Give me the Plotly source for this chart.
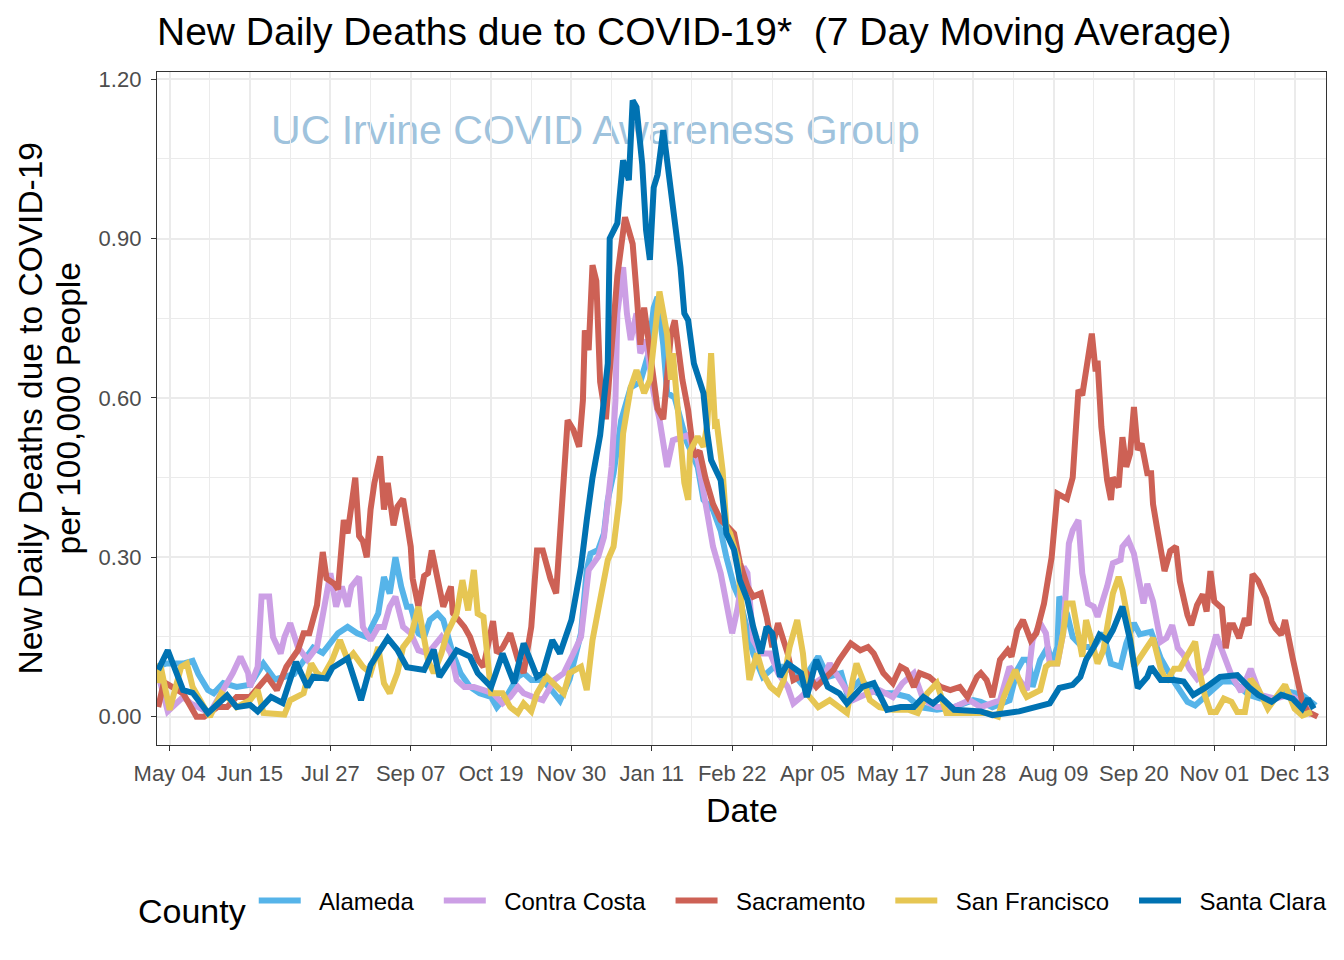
import pandas as pd
import plotly.graph_objects as go

# ---------------- data (days since 2020-05-04, 7-day avg deaths per 100k) ----------------
origin = "2020-05-04"
counties = ["Alameda", "Contra Costa", "Sacramento", "San Francisco", "Santa Clara"]
county_colors = ["#56B4E9", "#CC9FE5", "#CD6155", "#E6C653", "#0072B2"]

alameda_days = [-6, -2, 7, 12, 15, 20, 23, 28, 35, 42, 49, 55, 65, 75, 80, 88, 93, 98, 103, 109,
                112, 115, 118, 121, 124, 126, 130, 133, 136, 140, 143, 148, 152, 157, 162, 168, 171, 177, 182, 185,
                189, 195, 201, 204, 209, 215, 218, 220, 224, 227, 229, 232, 236, 241, 246, 250, 253, 255, 258, 260,
                264, 270, 276, 279, 284, 288, 291, 295, 298, 305, 310, 316, 323, 330, 339, 344, 351, 354, 361, 370,
                378, 386, 392, 401, 410, 420, 424, 430, 439, 443, 446, 449, 451, 455, 459, 461, 464, 465, 469, 472,
                477, 483, 488, 492, 497, 500, 504, 507, 513, 518, 525, 532, 536, 542, 550, 556, 564, 570, 578, 585,
                592, 599]
alameda_vals = [0.095, 0.10, 0.10, 0.105, 0.08, 0.05, 0.044, 0.063, 0.056, 0.06, 0.10, 0.07, 0.08, 0.13, 0.12, 0.157, 0.169, 0.157, 0.15, 0.194,
                0.263, 0.232, 0.30, 0.245, 0.207, 0.207, 0.157, 0.15, 0.182, 0.194, 0.182, 0.119, 0.082, 0.056, 0.044, 0.037, 0.018, 0.044, 0.075, 0.082,
                0.069, 0.069, 0.044, 0.03, 0.07, 0.157, 0.276, 0.307, 0.314, 0.345, 0.408, 0.458, 0.558, 0.62, 0.63, 0.68, 0.77, 0.79, 0.70, 0.61,
                0.60, 0.52, 0.47, 0.408, 0.389, 0.35, 0.30, 0.245, 0.22, 0.119, 0.075, 0.094, 0.094, 0.063, 0.113, 0.075, 0.082, 0.044, 0.069, 0.044,
                0.044, 0.037, 0.018, 0.013, 0.018, 0.031, 0.028, 0.018, 0.031, 0.088, 0.107, 0.107, 0.056, 0.107, 0.131, 0.10, 0.131, 0.226, 0.194, 0.15,
                0.131, 0.131, 0.157, 0.10, 0.094, 0.138, 0.176, 0.155, 0.16, 0.11, 0.066, 0.028, 0.021, 0.041, 0.066, 0.066, 0.041, 0.034, 0.034, 0.047,
                0.041, 0.021]

contra_costa_days = [-6, -1, 7, 11, 21, 25, 30, 33, 37, 41, 42, 46, 48, 52, 54, 58, 60, 63, 67, 72,
                     77, 80, 84, 87, 90, 93, 95, 99, 101, 105, 109, 112, 115, 118, 122, 126, 130, 135, 142, 147,
                     150, 154, 159, 164, 169, 174, 178, 182, 185, 190, 195, 201, 206, 211, 215, 219, 224, 227, 229, 231,
                     233, 234, 237, 239, 241, 244, 246, 249, 253, 256, 260, 263, 271, 276, 281, 284, 288, 291, 294, 297,
                     300, 302, 305, 309, 314, 318, 323, 326, 330, 337, 342, 345, 351, 357, 365, 371, 378, 383, 389, 394,
                     401, 410, 418, 424, 434, 439, 443, 448, 451, 455, 458, 460, 464, 467, 470, 472, 475, 477, 480, 483,
                     485, 488, 490, 493, 497, 498, 501, 504, 507, 509, 511, 514, 518, 521, 524, 527, 530, 533, 537, 542,
                     547, 551, 555, 560, 565, 570, 578, 585, 592, 597]
contra_costa_vals = [0.08, 0.01, 0.037, 0.025, 0.007, 0.031, 0.063, 0.082, 0.113, 0.082, 0.056, 0.094, 0.226, 0.226, 0.15, 0.119, 0.15, 0.176, 0.131, 0.107,
                     0.131, 0.188, 0.27, 0.207, 0.245, 0.207, 0.245, 0.263, 0.169, 0.144, 0.169, 0.169, 0.207, 0.226, 0.169, 0.157, 0.125, 0.119, 0.15, 0.119,
                     0.069, 0.056, 0.056, 0.05, 0.044, 0.025, 0.037, 0.056, 0.044, 0.037, 0.031, 0.069, 0.082, 0.119, 0.15, 0.276, 0.301, 0.338, 0.395, 0.47,
                     0.596, 0.759, 0.846, 0.759, 0.709, 0.759, 0.684, 0.709, 0.609, 0.56, 0.47, 0.52, 0.53, 0.483, 0.383, 0.32, 0.27, 0.207, 0.157, 0.207,
                     0.282, 0.27, 0.144, 0.119, 0.119, 0.082, 0.056, 0.025, 0.037, 0.063, 0.075, 0.10, 0.063, 0.031, 0.044, 0.05, 0.037, 0.063, 0.082, 0.031,
                     0.018, 0.018, 0.031, 0.018, 0.031, 0.094, 0.075, 0.05, 0.144, 0.176, 0.157, 0.10, 0.10, 0.157, 0.326, 0.351, 0.37, 0.27, 0.213, 0.207,
                     0.188, 0.22, 0.245, 0.289, 0.295, 0.32, 0.333, 0.307, 0.245, 0.213, 0.25, 0.217, 0.141, 0.148, 0.172, 0.129, 0.116, 0.09, 0.071, 0.09,
                     0.154, 0.116, 0.078, 0.047, 0.09, 0.041, 0.034, 0.041, 0.028, 0.002]

sacramento_days = [-6, -3, 7, 14, 18, 25, 30, 35, 42, 47, 51, 56, 61, 67, 70, 73, 77, 80, 82, 86,
                   88, 91, 93, 97, 99, 101, 103, 105, 107, 110, 112, 114, 117, 119, 122, 126, 127, 130, 133, 135,
                   137, 140, 143, 147, 148, 154, 157, 161, 164, 169, 171, 174, 178, 182, 185, 189, 192, 195, 199, 202,
                   204, 206, 208, 211, 214, 216, 217, 219, 221, 223, 225, 228, 231, 234, 238, 242, 244, 246, 248, 250,
                   255, 258, 262, 264, 268, 271, 274, 277, 280, 284, 288, 291, 295, 298, 302, 305, 309, 312, 315, 318,
                   323, 326, 333, 338, 342, 347, 350, 356, 361, 365, 368, 373, 378, 382, 385, 389, 392, 397, 403, 408,
                   413, 417, 422, 424, 427, 430, 434, 438, 440, 443, 446, 450, 453, 457, 459, 461, 464, 469, 472, 475,
                   477, 480, 482, 484, 485, 487, 490, 492, 493, 496, 498, 500, 502, 504, 506, 508, 511, 513, 514, 516,
                   518, 520, 523, 526, 528, 532, 534, 537, 540, 542, 544, 546, 550, 552, 554, 556, 559, 562, 564, 566,
                   569, 573, 576, 578, 581, 583, 587, 590, 592, 595, 600]
sacramento_vals = [0.018, 0.065, 0.044, 0.0, 0.0, 0.018, 0.018, 0.037, 0.037, 0.056, 0.075, 0.05, 0.094, 0.125, 0.157, 0.157, 0.21, 0.31, 0.26, 0.25,
                   0.24, 0.37, 0.345, 0.45, 0.34, 0.33, 0.30, 0.39, 0.44, 0.49, 0.39, 0.44, 0.36, 0.395, 0.41, 0.32, 0.26, 0.207, 0.265, 0.27,
                   0.313, 0.26, 0.207, 0.245, 0.195, 0.169, 0.15, 0.107, 0.094, 0.18, 0.12, 0.13, 0.157, 0.107, 0.082, 0.169, 0.313, 0.313, 0.26, 0.232,
                   0.34, 0.45, 0.558, 0.54, 0.508, 0.596, 0.727, 0.69, 0.85, 0.82, 0.63, 0.56, 0.70, 0.83, 0.94, 0.89, 0.80, 0.70, 0.77, 0.72,
                   0.58, 0.56, 0.72, 0.746, 0.634, 0.577, 0.49, 0.50, 0.45, 0.40, 0.37, 0.36, 0.345, 0.29, 0.245, 0.226, 0.232, 0.188, 0.131, 0.176,
                   0.119, 0.069, 0.082, 0.056, 0.069, 0.088, 0.107, 0.138, 0.125, 0.131, 0.119, 0.082, 0.063, 0.094, 0.088, 0.056, 0.082, 0.075, 0.056, 0.05,
                   0.056, 0.037, 0.075, 0.082, 0.069, 0.037, 0.107, 0.125, 0.113, 0.163, 0.182, 0.144, 0.157, 0.213, 0.257, 0.30, 0.42, 0.41, 0.45, 0.615,
                   0.605, 0.68, 0.721, 0.65, 0.67, 0.545, 0.445, 0.408, 0.45, 0.432, 0.526, 0.47, 0.495, 0.583, 0.502, 0.514, 0.458, 0.458, 0.40, 0.357,
                   0.307, 0.274, 0.312, 0.32, 0.255, 0.191, 0.172, 0.21, 0.23, 0.198, 0.274, 0.217, 0.204, 0.129, 0.172, 0.172, 0.148, 0.185, 0.172, 0.268,
                   0.255, 0.223, 0.179, 0.166, 0.154, 0.182, 0.11, 0.066, 0.028, 0.009, 0.0]

san_francisco_days = [-6, -5, 0, 6, 9, 12, 18, 21, 27, 32, 35, 42, 46, 49, 60, 63, 70, 74, 77, 80,
                      85, 89, 93, 96, 101, 105, 109, 112, 115, 119, 122, 126, 130, 132, 135, 138, 142, 145, 148, 150,
                      153, 156, 159, 161, 164, 166, 168, 174, 178, 182, 185, 189, 192, 197, 203, 206, 209, 215, 218, 221,
                      225, 229, 232, 235, 237, 239, 241, 244, 248, 251, 254, 256, 260, 262, 263, 267, 269, 271, 272, 276,
                      279, 281, 283, 285, 286, 289, 291, 293, 297, 298, 300, 302, 303, 307, 310, 314, 318, 321, 324, 328,
                      331, 333, 339, 345, 354, 357, 359, 363, 366, 371, 378, 386, 391, 396, 401, 406, 413, 427, 433, 436,
                      439, 442, 446, 448, 455, 458, 460, 464, 467, 469, 472, 475, 477, 479, 482, 485, 488, 491, 493, 496,
                      498, 500, 502, 504, 507, 511, 514, 518, 521, 525, 528, 532, 536, 538, 541, 544, 547, 551, 555, 558,
                      562, 565, 569, 574, 579, 583, 588, 592, 597]
san_francisco_vals = [0.063, 0.10, 0.013, 0.094, 0.10, 0.056, 0.018, 0.0, 0.044, 0.031, 0.018, 0.031, 0.05, 0.007, 0.004, 0.031, 0.044, 0.10, 0.082, 0.075,
                      0.107, 0.144, 0.107, 0.119, 0.094, 0.082, 0.131, 0.063, 0.044, 0.082, 0.131, 0.15, 0.207, 0.169, 0.107, 0.082, 0.119, 0.157, 0.182, 0.194,
                      0.257, 0.20, 0.276, 0.194, 0.188, 0.119, 0.044, 0.044, 0.018, 0.007, 0.025, 0.01, 0.044, 0.075, 0.056, 0.044, 0.082, 0.094, 0.05, 0.144,
                      0.22, 0.295, 0.32, 0.408, 0.533, 0.571, 0.62, 0.652, 0.609, 0.634, 0.746, 0.80, 0.72, 0.634, 0.684, 0.52, 0.44, 0.408, 0.50, 0.527,
                      0.508, 0.55, 0.684, 0.55, 0.552, 0.464, 0.357, 0.345, 0.295, 0.245, 0.169, 0.107, 0.069, 0.119, 0.082, 0.056, 0.044, 0.069, 0.131, 0.182,
                      0.119, 0.044, 0.018, 0.031, 0.007, 0.069, 0.10, 0.063, 0.031, 0.018, 0.013, 0.013, 0.007, 0.044, 0.063, 0.007, 0.007, 0.007, 0.0, 0.037,
                      0.063, 0.088, 0.05, 0.037, 0.05, 0.094, 0.10, 0.10, 0.157, 0.213, 0.213, 0.144, 0.113, 0.182, 0.138, 0.10, 0.125, 0.182, 0.232, 0.263,
                      0.238, 0.20, 0.157, 0.094, 0.11, 0.13, 0.148, 0.09, 0.066, 0.09, 0.09, 0.116, 0.141, 0.09, 0.041, 0.009, 0.009, 0.034, 0.028, 0.009,
                      0.009, 0.071, 0.052, 0.015, 0.041, 0.06, 0.015, 0.002, 0.009]

santa_clara_days = [-6, -1, 7, 12, 20, 30, 35, 42, 46, 53, 59, 66, 72, 75, 82, 85, 93, 100, 105, 114,
                    119, 124, 133, 138, 141, 150, 157, 161, 168, 174, 180, 185, 192, 195, 200, 204, 210, 215, 218, 221,
                    225, 227, 229, 230, 234, 235, 237, 240, 242, 244, 247, 249, 251, 253, 255, 258, 260, 263, 267, 269,
                    271, 274, 279, 281, 283, 288, 291, 295, 298, 302, 305, 309, 312, 315, 319, 323, 330, 333, 338, 344,
                    350, 354, 359, 362, 368, 371, 375, 382, 389, 394, 399, 403, 410, 424, 430, 444, 455, 460, 465, 472,
                    476, 479, 483, 486, 490, 493, 498, 502, 506, 511, 513, 518, 525, 530, 535, 542, 549, 558, 564, 569,
                    576, 581, 587, 592, 595, 598]
santa_clara_vals = [0.088, 0.125, 0.05, 0.045, 0.007, 0.04, 0.018, 0.022, 0.01, 0.037, 0.026, 0.103, 0.056, 0.075, 0.072, 0.092, 0.11, 0.031, 0.097, 0.148,
                    0.126, 0.093, 0.088, 0.126, 0.075, 0.125, 0.113, 0.082, 0.056, 0.119, 0.063, 0.138, 0.075, 0.082, 0.144, 0.119, 0.182, 0.282, 0.37, 0.45,
                    0.53, 0.60, 0.665, 0.90, 0.929, 0.972, 1.047, 1.01, 1.16, 1.147, 1.04, 0.916, 0.86, 0.996, 1.02, 1.104, 1.047, 0.96, 0.846, 0.759,
                    0.746, 0.665, 0.609, 0.534, 0.483, 0.445, 0.345, 0.314, 0.257, 0.22, 0.169, 0.119, 0.169, 0.157, 0.075, 0.10, 0.082, 0.037, 0.107, 0.056,
                    0.044, 0.025, 0.044, 0.056, 0.063, 0.044, 0.013, 0.018, 0.018, 0.037, 0.025, 0.037, 0.013, 0.01, 0.003, 0.01, 0.022, 0.025, 0.054, 0.06,
                    0.075, 0.107, 0.131, 0.154, 0.144, 0.163, 0.207, 0.144, 0.054, 0.075, 0.094, 0.069, 0.069, 0.066, 0.041, 0.056, 0.075, 0.078, 0.056, 0.041,
                    0.028, 0.041, 0.034, 0.015, 0.034, 0.015]

series_days = [alameda_days, contra_costa_days, sacramento_days, san_francisco_days, santa_clara_days]
series_vals = [alameda_vals, contra_costa_vals, sacramento_vals, san_francisco_vals, santa_clara_vals]

y_ticks = [0.0, 0.3, 0.6, 0.9, 1.2]


def to_dates(days):
    return pd.Timestamp(origin) + pd.to_timedelta(days, unit="D")


# ---------------- figure ----------------
FONT = "Liberation Sans, Arial, Helvetica, sans-serif"
NB = "\u00a0"
# page body has an 8px margin, so the figure is 8px smaller than the window
W, H = 1336, 952
ML, MR, MT, MB = 149, 18, 64, 215
PW, PH = W - ML - MR, H - MT - MB

fig = go.Figure()

for i, (name, color, d, v) in enumerate(zip(counties, county_colors, series_days, series_vals)):
    trail = NB * 3 if i < len(counties) - 1 else ""
    fig.add_trace(go.Scatter(
        x=to_dates(d), y=v, mode="lines",
        name=NB * 2 + name + trail,
        hovertemplate=name + ": %{y:.3f}<extra></extra>",
        line=dict(color=color, width=6),
    ))

x_lo = pd.Timestamp(origin) - pd.Timedelta(days=6.63)
x_hi = pd.Timestamp(origin) + pd.Timedelta(days=604.4)
DAY_MS = 86400000
GRID = "#EBEBEB"
AX = "#333333"

fig.update_layout(
    width=W, height=H,
    margin=dict(l=ML, r=MR, t=MT, b=MB),
    paper_bgcolor="white", plot_bgcolor="white",
    font=dict(family=FONT, color="black"),
    title=dict(
        text="New Daily Deaths due to COVID-19*" + NB + " (7 Day Moving Average)",
        x=ML / W, xanchor="left", xref="container",
        y=1 - 23 / H, yanchor="middle", yref="container",
        font=dict(size=39, color="black", family=FONT),
    ),
    xaxis=dict(
        type="date", range=[x_lo, x_hi],
        tick0=origin, dtick=42 * DAY_MS, tickformat="%b %d", tickangle=0,
        showgrid=True, gridcolor=GRID, gridwidth=2,
        minor=dict(tick0=origin, dtick=21 * DAY_MS, showgrid=True, gridcolor=GRID, gridwidth=1),
        showline=True, mirror=True, linecolor=AX, linewidth=1.3,
        ticks="outside", ticklen=5, tickwidth=1.3, tickcolor=AX,
        ticklabelstandoff=3,
        tickfont=dict(size=22, color="#4D4D4D", family=FONT),
        zeroline=False,
    ),
    yaxis=dict(
        range=[-0.0533, 1.2134],
        tickvals=y_ticks, tickformat=".2f",
        showgrid=True, gridcolor=GRID, gridwidth=2,
        minor=dict(tick0=0, dtick=0.15, showgrid=True, gridcolor=GRID, gridwidth=1),
        showline=True, mirror=True, linecolor=AX, linewidth=1.3,
        ticks="outside", ticklen=5, tickwidth=1.3, tickcolor=AX,
        ticklabelstandoff=5,
        tickfont=dict(size=22, color="#4D4D4D", family=FONT),
        zeroline=False,
    ),
    legend=dict(
        orientation="h",
        x=(136 - 157) / PW, xanchor="left",
        y=-(906 - 745) / PH, yanchor="middle",
        title=dict(text="County", font=dict(size=34, family=FONT), side="left"),
        font=dict(size=24, family=FONT),
        itemwidth=42,
        bgcolor="rgba(0,0,0,0)",
    ),
    showlegend=True,
)

# axis titles
fig.add_annotation(text="New Daily Deaths due to COVID-19", xref="paper", yref="paper",
                   x=(30 - 157) / PW, y=0.5, textangle=-90, showarrow=False,
                   xanchor="center", yanchor="middle", font=dict(size=33.5, family=FONT, color="black"))
fig.add_annotation(text="per 100,000 People", xref="paper", yref="paper",
                   x=(68 - 157) / PW, y=0.5, textangle=-90, showarrow=False,
                   xanchor="center", yanchor="middle", font=dict(size=33.5, family=FONT, color="black"))
fig.add_annotation(text="Date", xref="paper", yref="paper",
                   x=0.5, y=-(810 - 745) / PH, showarrow=False,
                   xanchor="center", yanchor="middle", font=dict(size=34, family=FONT, color="black"))

# watermark drawn between grid and traces
fig.add_shape(type="rect", xref="paper", yref="paper",
              x0=0.05, x1=0.70, y0=0.885, y1=0.955,
              line=dict(width=0), fillcolor="rgba(0,0,0,0)", layer="between",
              label=dict(text="UC Irvine COVID Awareness Group", textposition="middle center",
                         font=dict(size=41, color="#9FC3DD", family=FONT)))

fig.write_html("out.html")
